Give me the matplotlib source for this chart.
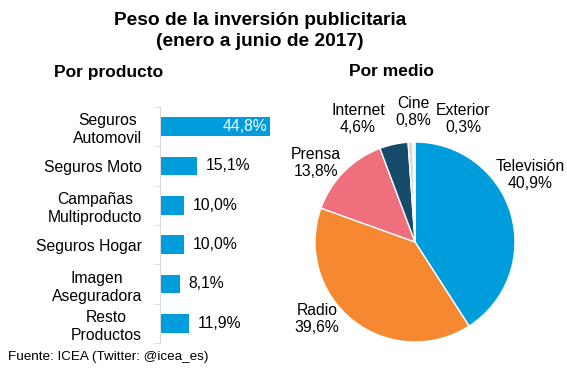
import matplotlib
matplotlib.use("Agg")
import matplotlib.pyplot as plt
from matplotlib.ticker import FixedLocator

plt.rcParams['font.family'] = ['Liberation Sans', 'DejaVu Sans']

# ---- data ----
productos = ["Seguros\nAutomovil", "Seguros Moto", "Campañas\nMultiproducto",
             "Seguros Hogar", "Imagen\nAseguradora", "Resto\nProductos"]
prod_vals = [44.8, 15.1, 10.0, 10.0, 8.1, 11.9]

medios = ["Televisión", "Radio", "Prensa", "Internet", "Cine", "Exterior"]
medio_vals = [40.9, 39.6, 13.8, 4.6, 0.8, 0.3]

title = "Peso de la inversión publicitaria\n(enero a junio de 2017)"
fuente = "Fuente: ICEA (Twitter: @icea_es)"

def fmt(v):
    return f"{v:.1f}%".replace(".", ",")

W, H = 567, 378
fig = plt.figure(figsize=(W/100, H/100), dpi=100)
fig.patch.set_facecolor("white")

def px(x0, y0, x1, y1):
    return [x0/W, 1 - y1/H, (x1-x0)/W, (y1-y0)/H]

LBL = 11.3
fig.text(260/W, 1 - 31/H, title, ha="center", va="center", fontsize=13.8,
         fontweight="bold", linespacing=1.38)
fig.text(109/W, 1 - 72/H, "Por producto", ha="center", va="center",
         fontsize=12.5, fontweight="bold")
fig.text(391/W, 1 - 72/H, "Por medio", ha="center", va="center",
         fontsize=12.5, fontweight="bold")
fig.text(8/W, 1 - 357/H, fuente, ha="left", va="center", fontsize=9.7)

# ---- bar chart ----
bar_color = "#009DDC"
ax = fig.add_axes(px(160, 107, 270, 343))
n = len(productos)
ypos = list(range(n))
ax.barh(ypos, prod_vals, height=0.48, color=bar_color)
ax.set_ylim(n - 0.5, -0.5)
ax.set_xlim(0, 45)
for s in ["top", "right", "bottom"]:
    ax.spines[s].set_visible(False)
ax.spines["left"].set_color("#D9D9D9")
ax.xaxis.set_visible(False)
ax.yaxis.set_major_locator(FixedLocator(ypos))
ax.set_yticklabels(productos, fontsize=LBL, linespacing=1.25,
                   multialignment="center")
ax.tick_params(axis="y", which="major", length=0, pad=13)
ax.yaxis.set_minor_locator(FixedLocator([i - 0.5 for i in range(n + 1)]))
ax.tick_params(axis="y", which="minor", length=4, color="#D9D9D9")
ax.patch.set_alpha(0)
for y, v in zip(ypos, prod_vals):
    if v > 30:
        ax.text(v - 1, y, fmt(v), ha="right", va="center", color="white",
                fontsize=LBL)
    else:
        ax.text(v + 3.6, y, fmt(v), ha="left", va="center", color="black",
                fontsize=LBL)

# ---- pie chart ----
pie_colors = ["#009DDC", "#F58831", "#EF707C", "#174B6C", "#D9D9D9", "#BFBFBF"]
label_pos = [(1.15, 0.67), (-0.98, -0.77), (-0.99, 0.79),
             (-0.57, 1.23), (-0.02, 1.30), (0.48, 1.23)]
pax = fig.add_axes(px(315, 142, 515, 342))
pax.pie(medio_vals, colors=pie_colors, startangle=90, counterclock=False,
        radius=1, wedgeprops=dict(edgecolor="white", linewidth=1))
pax.set_xlim(-1, 1)
pax.set_ylim(-1, 1)
pax.set_aspect("equal")
pax.axis("off")
for name, v, (lx, ly) in zip(medios, medio_vals, label_pos):
    pax.text(lx, ly, f"{name}\n{fmt(v)}", ha="center", va="center",
             fontsize=LBL, linespacing=1.2, clip_on=False)

fig.savefig("out.png", dpi=100)
